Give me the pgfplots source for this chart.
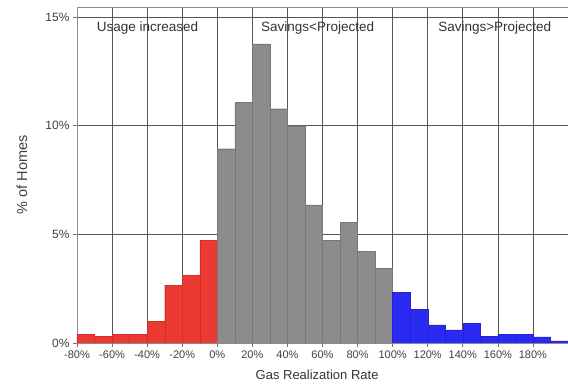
\documentclass[border=0pt]{standalone}
\usepackage{pgfplots}
\pgfplotsset{compat=1.18}
\usepackage{fontspec}
\setmainfont{Liberation Sans}
\definecolor{redbar}{RGB}{236,58,50}
\definecolor{graybar}{RGB}{140,140,140}
\definecolor{bluebar}{RGB}{42,42,242}
\definecolor{gridc}{RGB}{85,85,85}
\begin{document}
\begin{tikzpicture}
\begin{axis}[
  scale only axis,
  width=491pt, height=336pt,
  xmin=-80, xmax=200, ymin=0, ymax=15.46,
  axis line style={draw=black!45, line width=0.8pt},
  xtick={-80,-60,-40,-20,0,20,40,60,80,100,120,140,160,180},
  xticklabels={-80\%,-60\%,-40\%,-20\%,0\%,20\%,40\%,60\%,80\%,100\%,120\%,140\%,160\%,180\%},
  ytick={0,5,10,15},
  yticklabels={0\%,5\%,10\%,15\%},
  tick align=outside, major tick length=4pt,
  tick style={draw=black!55, line width=0.6pt},
  xtick pos=bottom, ytick pos=left,
  grid=major,
  major grid style={draw=gridc, line width=0.7pt},
  xticklabel style={font=\fontsize{11}{12}\selectfont, text=black!75},
  yticklabel style={font=\fontsize{12}{13}\selectfont, text=black!75},
  xlabel={Gas Realization Rate},
  ylabel={\% of Homes},
  xlabel style={font=\fontsize{13}{14}\selectfont, text=black!80, at={(axis description cs:0.489,0)}, anchor=center, yshift=-32pt},
  ylabel style={font=\fontsize{14.5}{15}\selectfont, text=black!75, at={(axis description cs:0,0.5)}, anchor=center, yshift=55pt},
  clip=true,
]
\addplot[ybar interval, fill=redbar, draw=redbar!85!black, line width=0.3pt] coordinates {
  (-80,0.41) (-70,0.30) (-60,0.40) (-50,0.40) (-40,1.00) (-30,2.66) (-20,3.12) (-10,4.72) (0,4.72)
};
\addplot[ybar interval, fill=graybar, draw=graybar!85!black, line width=0.3pt] coordinates {
  (0,8.94) (10,11.06) (20,13.76) (30,10.78) (40,10.0) (50,6.35) (60,4.72) (70,5.55) (80,4.22) (90,3.44) (100,3.44)
};
\addplot[ybar interval, fill=bluebar, draw=bluebar!85!black, line width=0.3pt] coordinates {
  (100,2.34) (110,1.56) (120,0.83) (130,0.60) (140,0.92) (150,0.32) (160,0.40) (170,0.40) (180,0.28) (190,0.10) (200,0.10)
};
\node[anchor=west, font=\fontsize{13.5}{14}\selectfont, text=black!80] at (axis cs:-70.7,14.5) {Usage increased};
\node[anchor=west, font=\fontsize{13.5}{14}\selectfont, text=black!80] at (axis cs:23,14.5) {Savings<Projected};
\node[anchor=west, font=\fontsize{13.5}{14}\selectfont, text=black!80] at (axis cs:124,14.5) {Savings>Projected};
\coordinate (ll) at (rel axis cs:0,0);
\coordinate (ur) at (rel axis cs:1,1);
\end{axis}
\pgfresetboundingbox
\path[use as bounding box] ([shift={(-77pt,-42pt)}]ll) rectangle ([shift={(0pt,7pt)}]ur);
\end{tikzpicture}
\end{document}
